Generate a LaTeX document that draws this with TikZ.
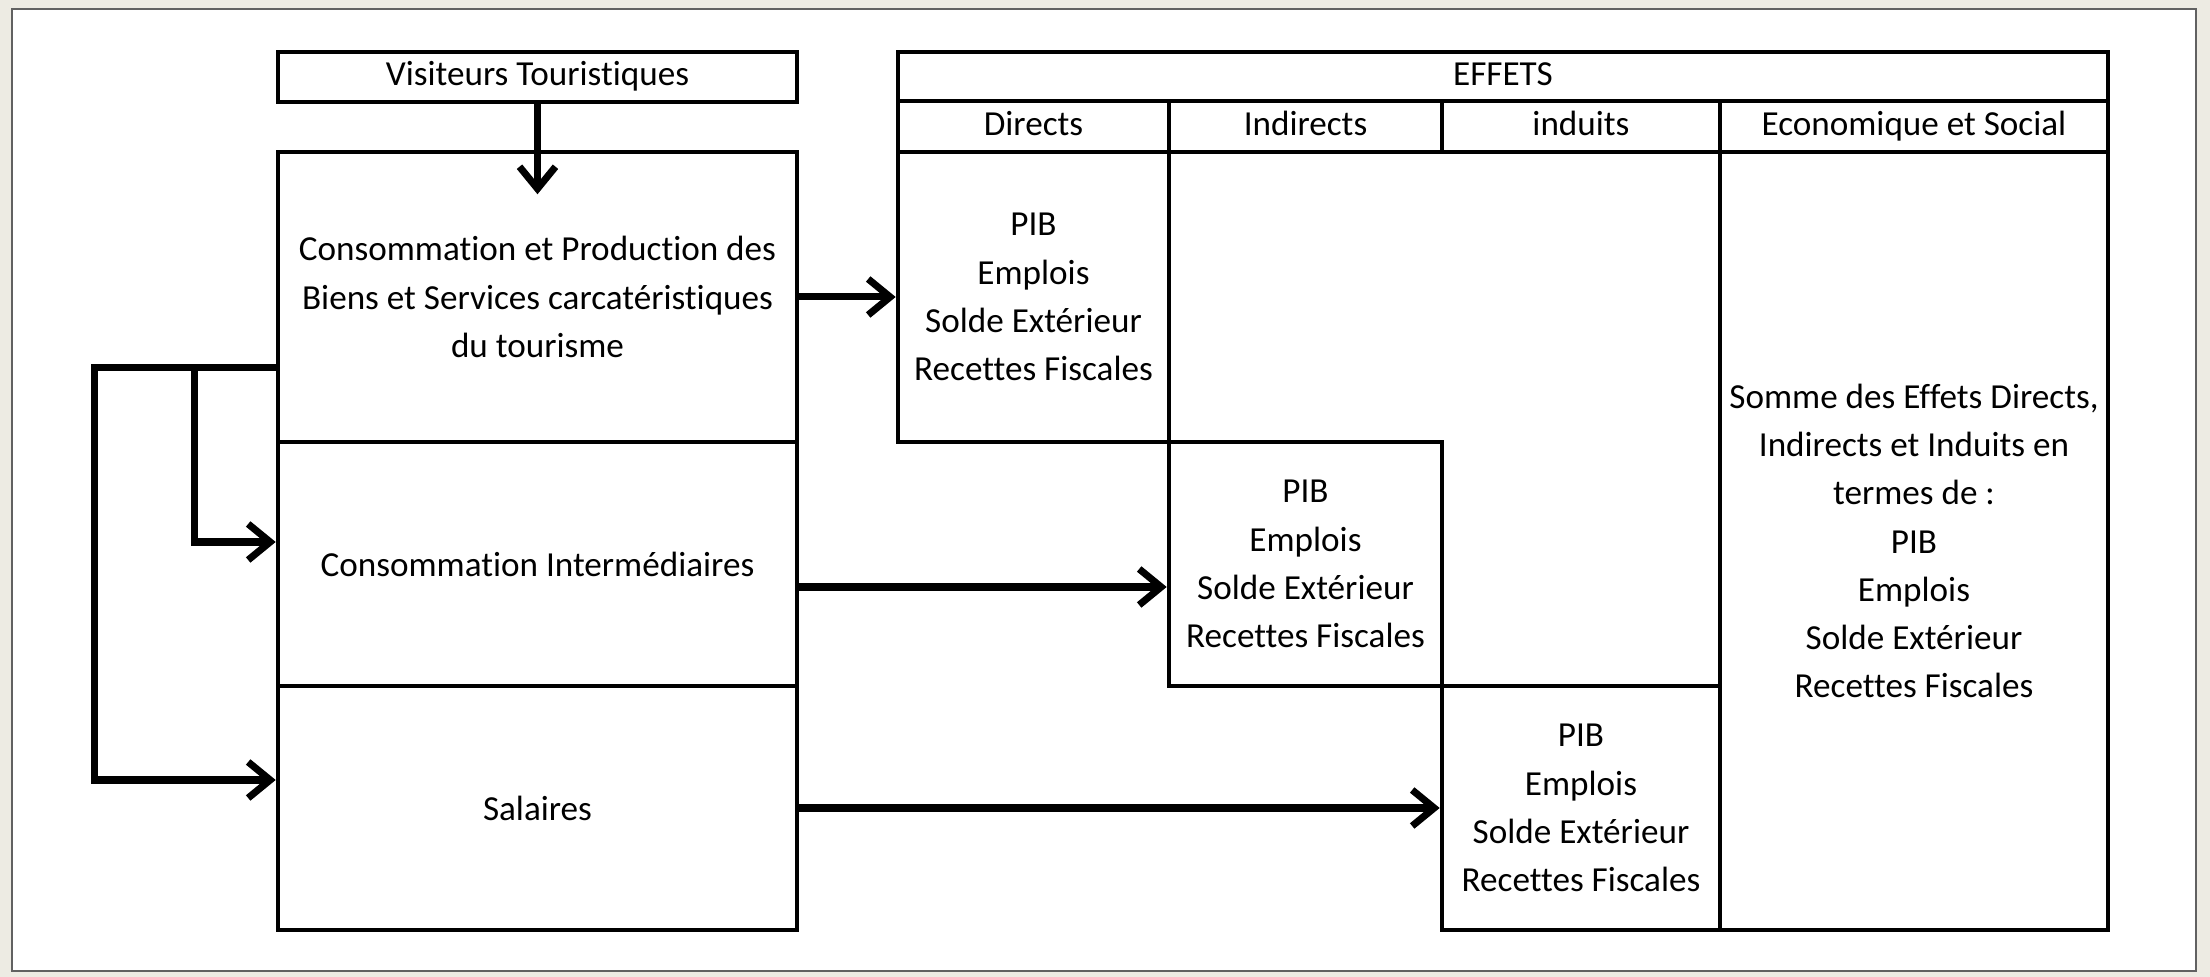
\documentclass[tikz,border=0pt]{standalone}
\usepackage{fontspec}
\setmainfont[Ligatures=NoCommon]{Carlito}
\usetikzlibrary{arrows.meta}
\definecolor{fgcolor}{rgb}{0,0,0}
\definecolor{bgcolor}{rgb}{1,1,1}
\definecolor{rimcolor}{rgb}{0.38,0.38,0.38}
\definecolor{edgecolor}{rgb}{0.93,0.92,0.89}
\def\Indic{PIB\\Emplois\\Solde Extérieur\\Recettes Fiscales}

\begin{document}
\begin{tikzpicture}[x=1cm,y=-1cm,
  cell/.style={draw=fgcolor,line width=1.3pt,align=center,inner sep=0pt,
    font=\fontsize{10}{13.7}\selectfont},
  head/.style={cell,text height=7pt,text depth=2pt},
  arr/.style={draw=fgcolor,line width=2pt,line join=miter,
    -{Straight Barb[length=2.2mm,width=3.6mm]}}]
\useasboundingbox (0,0) rectangle (22.10,9.77);
\fill[edgecolor] (0,0) rectangle (22.10,9.77);
\fill[bgcolor] (0.12,0.09) rectangle (21.96,9.71);
\draw[rimcolor,line width=0.8pt] (0.12,0.09) rectangle (21.96,9.71);

\node[head,minimum width=5.19cm,minimum height=0.50cm] (visit) at (5.375,0.77) {Visiteurs Touristiques};
\node[cell,minimum width=5.19cm,minimum height=2.90cm] (conso) at (5.375,2.97)
  {Consommation et Production des\\Biens et Services carcatéristiques\\du tourisme};
\node[cell,minimum width=5.19cm,minimum height=2.44cm] (inter) at (5.375,5.64) {Consommation Intermédiaires};
\node[cell,minimum width=5.19cm,minimum height=2.44cm] (sal) at (5.375,8.08) {Salaires};

\node[head,minimum width=12.10cm,minimum height=0.49cm] (effets) at (15.03,0.765) {EFFETS};
\foreach \name/\cx/\w/\txt in {hdir/10.335/2.71/Directs,hind/13.055/2.73/Indirects,
    hinu/15.81/2.78/induits,heco/19.14/3.88/Economique et Social}
  \node[head,minimum width=\w cm,minimum height=0.51cm] (\name) at (\cx,1.265) {\txt};

\node[cell,minimum width=2.71cm,minimum height=2.90cm] (dir) at (10.335,2.97) {\Indic};
\node[cell,minimum width=2.73cm,minimum height=2.44cm] (indir) at (13.055,5.64) {\Indic};
\node[cell,minimum width=2.78cm,minimum height=2.44cm] (indu) at (15.81,8.08) {\Indic};
\node[cell,minimum width=3.88cm,minimum height=7.78cm] (eco) at (19.14,5.41)
  {Somme des Effets Directs,\\Indirects et Induits en\\termes de :\\\Indic};

\draw[arr] (visit.south) -- ++(0,0.90);
\draw[arr] (conso.east) -- (dir.west);
\draw[arr] ([yshift=-2.3mm]inter.east) -- ([yshift=-2.3mm]indir.west);
\draw[arr] (sal.east) -- (indu.west);
\draw[arr] ([yshift=-7.1mm]conso.west) -- ++(-0.81,0) coordinate (split)
  -- ++(-1.00,0) |- ([yshift=2.8mm]sal.west);
\draw[arr] (split) |- ([yshift=2.2mm]inter.west);
\end{tikzpicture}
\end{document}
